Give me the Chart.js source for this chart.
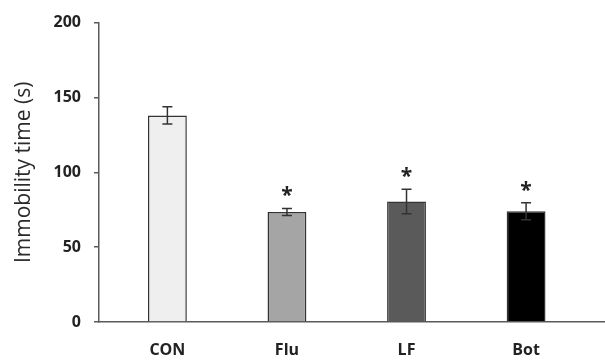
<!DOCTYPE html>
<html>
<head>
<meta charset="utf-8">
<script src="https://cdn.jsdelivr.net/npm/chart.js@4/dist/chart.umd.min.js"></script>
<style>
  html, body { margin: 0; padding: 0; background: #fff; }
  #wrap { width: 605px; height: 361px; }
</style>
</head>
<body>
<div id="wrap"><canvas id="myChart" width="605" height="361"></canvas></div>
<script>
// groups and mean immobility time (s), with SEM
var groups = ['CON', 'Flu', 'LF', 'Bot'];
var immobility = [138, 73.5, 80.5, 74];
var sem = [5.8, 2.4, 8.2, 5.7];
var signif = ['', '*', '*', '*'];
var yTicks = [0, 50, 100, 150, 200];

var fills = ['#efefef', '#a5a5a5', '#5a5a5a', '#000000'];

// error bars + asterisks
var errorBars = {
    id: 'errorBars',
    afterDatasetsDraw: function (chart) {
        var ctx = chart.ctx;
        var xs = chart.scales.x, ys = chart.scales.y;
        ctx.save();
        ctx.strokeStyle = '#333';
        ctx.lineWidth = 1.5;
        for (var i = 0; i < groups.length; i++) {
            var x = xs.getPixelForValue(i);
            var top = ys.getPixelForValue(immobility[i] + sem[i]);
            var bot = ys.getPixelForValue(immobility[i] - sem[i]);
            ctx.beginPath();
            ctx.moveTo(x, top); ctx.lineTo(x, bot);
            ctx.moveTo(x - 5, top); ctx.lineTo(x + 5, top);
            ctx.moveTo(x - 5, bot); ctx.lineTo(x + 5, bot);
            ctx.stroke();
            if (signif[i]) {
                ctx.fillStyle = '#222';
                ctx.font = 'bold 21px "Open Sans"';
                ctx.textAlign = 'center';
                ctx.textBaseline = 'middle';
                ctx.fillText(signif[i], x, top - 12);
            }
        }
        ctx.restore();
    }
};

var ctx = document.getElementById('myChart');
var myChart = new Chart(ctx, {
    type: 'bar',
    data: {
        datasets: [{
            data: immobility.map(function (v, i) { return { x: i, y: v }; }),
            backgroundColor: fills,
            borderColor: '#333',
            borderWidth: 1.5,
            categoryPercentage: 1,
            barPercentage: 0.325
        }]
    },
    options: {
        responsive: false,
        animation: false,
        layout: { padding: { top: 21, right: 0, left: 0, bottom: 0 } },
        plugins: { legend: { display: false }, tooltip: { enabled: false } },
        scales: {
            x: {
                type: 'linear',
                offset: false,
                min: -0.572,
                max: 3.66,
                afterBuildTicks: function (scale) {
                    scale.ticks = groups.map(function (g, i) { return { value: i }; });
                },
                afterFit: function (scale) { scale.height = 39; },
                ticks: {
                    callback: function (v) { return groups[v]; },
                    color: '#222',
                    font: { family: 'Open Sans', size: 16, weight: 'bold' },
                    padding: 11,
                    maxRotation: 0
                },
                grid: { display: false },
                border: { display: true, color: '#5a5a5a', width: 1.5 }
            },
            y: {
                min: 0,
                max: 200,
                afterBuildTicks: function (scale) {
                    scale.ticks = yTicks.map(function (v) { return { value: v }; });
                },
                afterFit: function (scale) { scale.width = 99; },
                ticks: {
                    color: '#222',
                    font: { family: 'Open Sans', size: 16, weight: 'bold' },
                    padding: 13
                },
                grid: { drawOnChartArea: false, drawTicks: true, tickLength: 5, color: '#5a5a5a', lineWidth: 1.5 },
                border: { display: true, color: '#5a5a5a', width: 1.5 },
                title: {
                    display: true,
                    text: 'Immobility time (s)',
                    color: '#2a2a2a',
                    font: { family: 'Open Sans', size: 21 },
                    padding: { top: 11, bottom: 0 }
                }
            }
        }
    },
    plugins: [errorBars]
});
</script>
</body>
</html>
